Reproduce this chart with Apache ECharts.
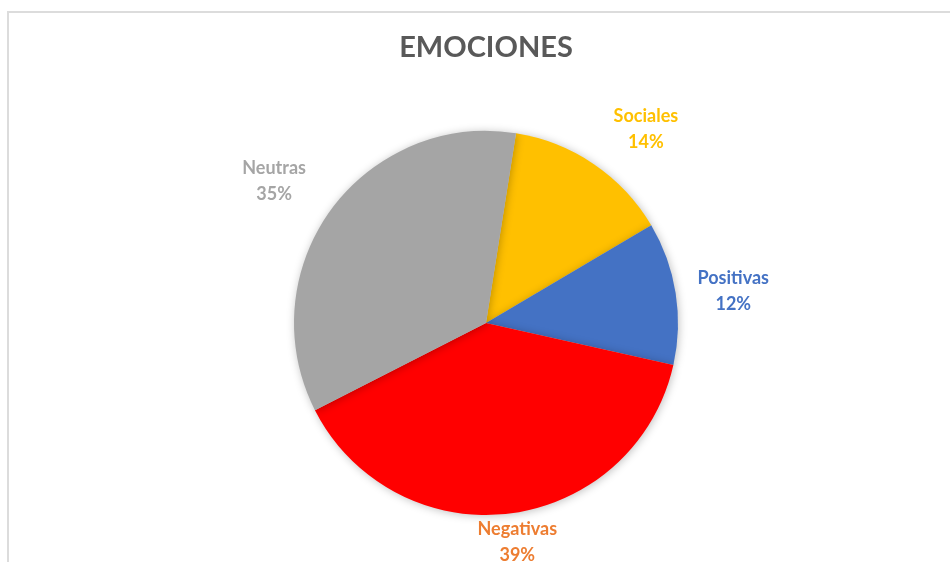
<!DOCTYPE html>
<html>
<head>
<meta charset="utf-8">
<script src="https://cdn.jsdelivr.net/npm/echarts@6/dist/echarts.min.js"></script>
<style>
  html, body { margin:0; padding:0; background:#fff; }
  #frame { position:absolute; left:7px; top:11px; width:960px; height:600px;
           border-top:2px solid #dcdcdc; border-left:2px solid #dcdcdc; box-sizing:border-box; }
  #chart { position:absolute; left:0; top:0; width:950px; height:562px; }
</style>
</head>
<body>
<div id="frame"></div>
<div id="chart"></div>
<script>
const titleText = 'EMOCIONES';
const categories = ['Sociales', 'Positivas', 'Negativas', 'Neutras'];
const values = [14, 12, 39, 35];
const colors = ['#FFC000', '#4472C4', '#FF0000', '#A5A5A5'];
const labelColors = ['#FFC000', '#4472C4', '#ED7D31', '#A5A5A5'];

const CX = 486, CY = 323, R = 192, GAP = 19, H = 562;
// small label nudges (styling only), keyed by category
const labelNudge = { 'Sociales': [19, 13], 'Positivas': [0, 7], 'Negativas': [1, 1], 'Neutras': [-8, 6] };

const chart = echarts.init(document.getElementById('chart'), null, { renderer: 'canvas' });
chart.setOption({
  animation: false,
  backgroundColor: 'transparent',
  title: {
    text: titleText, left: 481, textAlign: 'center', top: 28,
    textStyle: { fontFamily: 'Lato', fontWeight: 'bold', fontSize: 29, color: '#595959' }
  },
  series: [{
    type: 'pie',
    center: [CX, CY],
    radius: R,
    startAngle: 81,
    clockwise: true,
    avoidLabelOverlap: false,
    data: categories.map((c, i) => ({
      name: c, value: values[i],
      itemStyle: { color: colors[i] },
      label: { color: labelColors[i] }
    })),
    itemStyle: { borderWidth: 0, shadowBlur: 9, shadowColor: 'rgba(0,0,0,0.25)', shadowOffsetX: 1, shadowOffsetY: 1 },
    label: {
      show: true, position: 'outside',
      formatter: '{b}\n{d}%',
      fontFamily: 'Lato', fontSize: 18, fontWeight: 'bold', lineHeight: 26, align: 'center'
    },
    labelLine: { show: false, length: 5, length2: 0 },
    labelLayout: function (p) {
      const pt = p.labelLinePoints ? p.labelLinePoints[0] : null;
      if (!pt) return {};
      let ux = pt[0] - CX, uy = pt[1] - CY;
      const L = Math.sqrt(ux * ux + uy * uy) || 1;
      ux /= L; uy /= L;
      const w = p.labelRect.width, h = p.labelRect.height;
      const support = Math.abs(ux) * w / 2 + Math.abs(uy) * h / 2;
      const d = R + GAP + support;
      let x = CX + ux * d, y = CY + uy * d;
      if (y > H - h / 2 + 5) y = H - h / 2 + 5;
      const n = labelNudge[categories[p.dataIndex]] || [0, 0];
      return { x: x + n[0], y: y + n[1], align: 'center', verticalAlign: 'middle' };
    }
  }]
});
</script>
</body>
</html>
